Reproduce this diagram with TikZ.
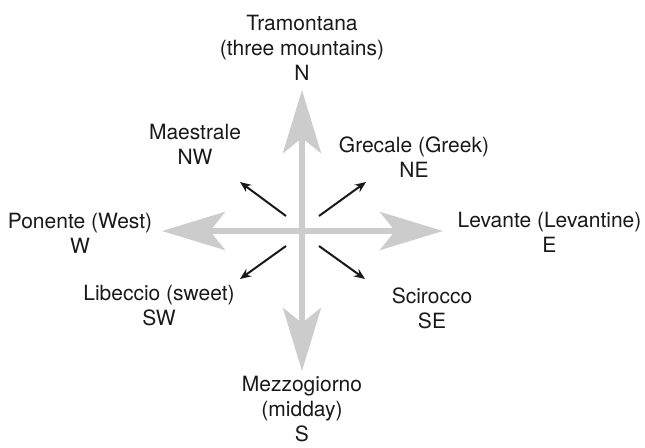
\documentclass[tikz,border=0pt]{standalone}
\usepackage{fontspec}
\setmainfont{TeX Gyre Heros}
\usetikzlibrary{arrows.meta}

\begin{document}
\begin{tikzpicture}[x=1pt, y=1pt,
    axis/.style={draw=black!20, line width=6pt,
        {Stealth[length=63pt, width=38pt, inset=15pt]}-{Stealth[length=63pt, width=38pt, inset=15pt]}},
    wind/.style={-{Stealth[length=11pt, width=9pt]}, line width=2pt, draw=black!90},
    label/.style={align=center, font=\fontsize{21}{25}\selectfont, text=black!90, inner sep=0pt},
]
\useasboundingbox (-302,-216) rectangle (343,231);

% Compass points
\coordinate (c) at (0, 0);
\coordinate (tipN) at (0, 141);
\coordinate (tipS) at (0, -140);
\coordinate (tipW) at (-140, 0);
\coordinate (tipE) at (141, 0);

% Main winds
\draw[axis] (tipW) -- (tipE);
\draw[axis] (tipS) -- (tipN);

% Diagonal winds
\coordinate (tNW) at (-16, 15);  \coordinate (hNW) at (-62, 49);
\coordinate (tNE) at (17, 15);   \coordinate (hNE) at (64, 49);
\coordinate (tSW) at (-16, -15); \coordinate (hSW) at (-62, -48);
\coordinate (tSE) at (17, -15);  \coordinate (hSE) at (63, -48);

\draw[wind] (tNW) -- (hNW);
\draw[wind] (tNE) -- (hNE);
\draw[wind] (tSW) -- (hSW);
\draw[wind] (tSE) -- (hSE);

% Names
\node[label] (north) at (0, 183.5) {Tramontana\\(three mountains)\\N};
\node[label] (south) at (0, -178) {Mezzogiorno\\(midday)\\S};
\node[label] (west) at (-222, -2) {Ponente (West)\\W};
\node[label] (east) at (247.5, -1) {Levante (Levantine)\\E};
\node[label] (nw) at (-107, 87) {Maestrale\\NW};
\node[label] (ne) at (112, 74) {Grecale (Greek)\\NE};
\node[label] (sw) at (-143, -75) {Libeccio (sweet)\\SW};
\node[label] (se) at (130, -77) {Scirocco\\SE};

\end{tikzpicture}
\end{document}
